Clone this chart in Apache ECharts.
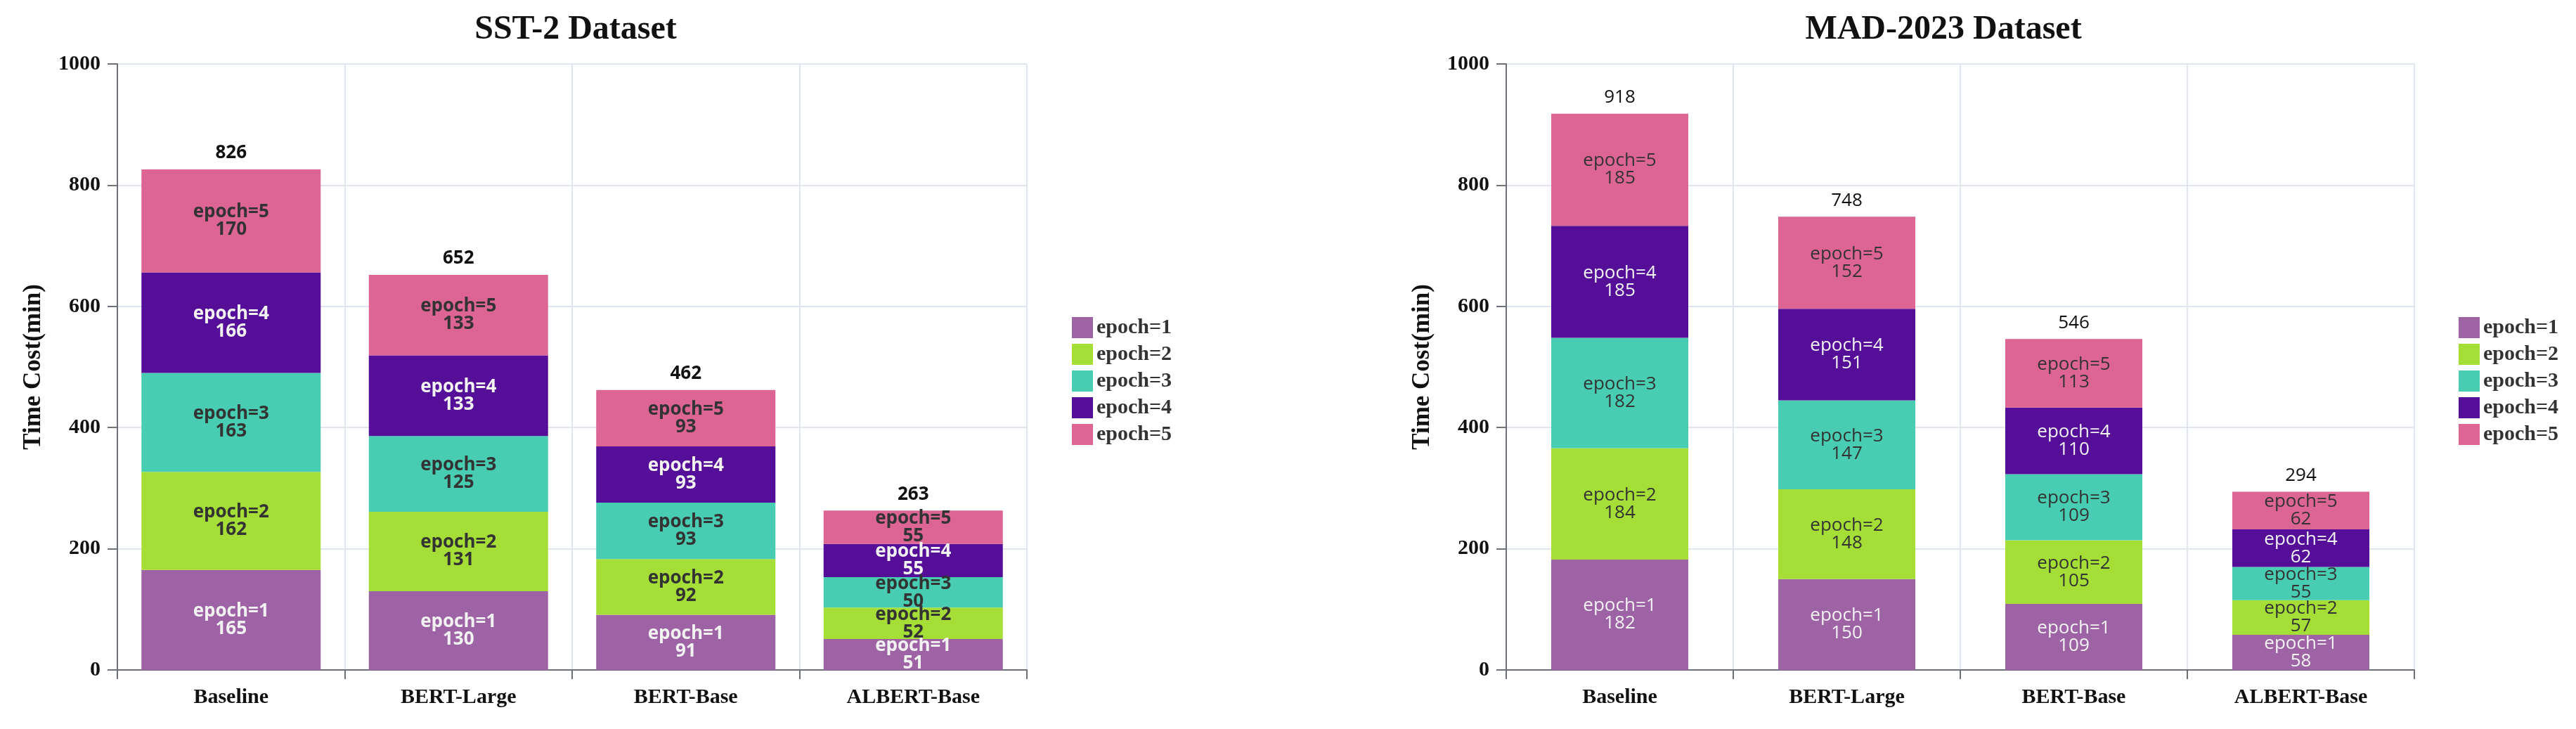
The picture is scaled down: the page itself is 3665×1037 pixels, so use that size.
<!DOCTYPE html>
<html><head><meta charset="utf-8">
<script src="https://cdn.jsdelivr.net/npm/echarts@6/dist/echarts.min.js"></script>
<style>html,body{margin:0;padding:0;background:#fff}#c{width:3665px;height:1037px}</style>
</head><body><div id="c"></div>
<script>
const categories = ['Baseline', 'BERT-Large', 'BERT-Base', 'ALBERT-Base'];
const epochNames = ['epoch=1', 'epoch=2', 'epoch=3', 'epoch=4', 'epoch=5'];
const yTicks = [0, 200, 400, 600, 800, 1000];
// SST-2
const sstEpoch1 = [165, 130, 91, 51];
const sstEpoch2 = [162, 131, 92, 52];
const sstEpoch3 = [163, 125, 93, 50];
const sstEpoch4 = [166, 133, 93, 55];
const sstEpoch5 = [170, 133, 93, 55];
const sstTotals = [826, 652, 462, 263];
// MAD-2023
const madEpoch1 = [182, 150, 109, 58];
const madEpoch2 = [184, 148, 105, 57];
const madEpoch3 = [182, 147, 109, 55];
const madEpoch4 = [185, 151, 110, 62];
const madEpoch5 = [185, 152, 113, 62];
const madTotals = [918, 748, 546, 294];

const colors = ['#9d63a5', '#a4de37', '#48cdb3', '#540e98', '#dd6594'];
const labelColors = ['#f2f2f2', '#333333', '#333333', '#f2f2f2', '#333333'];
const serif = 'Liberation Serif';
const sans = 'Open Sans';

const chart = echarts.init(document.getElementById('c'), null, {renderer: 'canvas'});

function axisPair(gi, nameGap) {
  return {
    x: {
      type: 'category', gridIndex: gi, data: categories,
      axisLine: {lineStyle: {color: '#6e7079', width: 2}},
      axisTick: {show: true, length: 13, lineStyle: {color: '#6e7079', width: 2}},
      axisLabel: {fontFamily: serif, fontWeight: 'bold', fontSize: 30, color: '#111', margin: 24},
      splitLine: {show: true, lineStyle: {color: '#e0e6f1', width: 2}}
    },
    y: {
      type: 'value', gridIndex: gi, min: yTicks[0], max: yTicks[yTicks.length - 1], interval: 200,
      name: 'Time Cost(min)', nameLocation: 'middle', nameGap: nameGap,
      nameTextStyle: {fontFamily: serif, fontWeight: 'bold', fontSize: 35, color: '#111'},
      axisLine: {show: true, lineStyle: {color: '#6e7079', width: 2}},
      axisTick: {show: true, length: 14, lineStyle: {color: '#6e7079', width: 2}},
      axisLabel: {fontFamily: serif, fontWeight: 'bold', fontSize: 30, color: '#111', margin: 24,
        formatter: v => String(v)},
      splitLine: {show: true, lineStyle: {color: '#e0e6f1', width: 2}}
    }
  };
}
const a0 = axisPair(0, 102), a1 = axisPair(1, 102);

function makeSeries(gi, arrs, totals, bold, barWidth) {
  const out = arrs.map((d, i) => ({
    name: epochNames[i], type: 'bar', stack: 's' + gi, xAxisIndex: gi, yAxisIndex: gi,
    barWidth: barWidth, data: d,
    itemStyle: {color: colors[i]},
    label: {show: true, position: 'inside', formatter: '{a}\n{c}', color: labelColors[i],
      fontFamily: sans, fontWeight: bold ? 'bold' : 'normal', fontSize: 26, lineHeight: 25}
  }));
  out.push({
    name: 'total' + gi, type: 'bar', stack: 's' + gi, xAxisIndex: gi, yAxisIndex: gi,
    barWidth: barWidth, data: totals.map(() => 0), itemStyle: {color: 'transparent'},
    label: {show: true, position: 'top', distance: 10, color: '#111',
      formatter: p => totals[p.dataIndex],
      fontFamily: sans, fontWeight: bold ? 'bold' : 'normal', fontSize: 26}
  });
  return out;
}

chart.setOption({
  animation: false,
  title: [
    {text: 'SST-2 Dataset', left: 814, top: 14, textAlign: 'center',
      textStyle: {fontFamily: serif, fontWeight: 'bold', fontSize: 48, color: '#111'}},
    {text: 'MAD-2023 Dataset', left: 2760, top: 14, textAlign: 'center',
      textStyle: {fontFamily: serif, fontWeight: 'bold', fontSize: 48, color: '#111'}}
  ],
  legend: [
    {data: epochNames, orient: 'vertical', left: 1520, top: 446, itemWidth: 30, itemHeight: 30, itemGap: 8,
      icon: 'rect', selectedMode: false,
      textStyle: {fontFamily: serif, fontWeight: 'bold', fontSize: 30, color: '#333'}},
    {data: epochNames, orient: 'vertical', left: 3493, top: 446, itemWidth: 30, itemHeight: 30, itemGap: 8,
      icon: 'rect', selectedMode: false,
      textStyle: {fontFamily: serif, fontWeight: 'bold', fontSize: 30, color: '#333'}}
  ],
  grid: [
    {left: 167, right: 2204, top: 91, bottom: 84},
    {left: 2143, right: 230, top: 91, bottom: 84}
  ],
  xAxis: [a0.x, a1.x],
  yAxis: [a0.y, a1.y],
  series: [
    ...makeSeries(0, [sstEpoch1, sstEpoch2, sstEpoch3, sstEpoch4, sstEpoch5], sstTotals, true, 255),
    ...makeSeries(1, [madEpoch1, madEpoch2, madEpoch3, madEpoch4, madEpoch5], madTotals, false, 195)
  ]
});
</script></body></html>
